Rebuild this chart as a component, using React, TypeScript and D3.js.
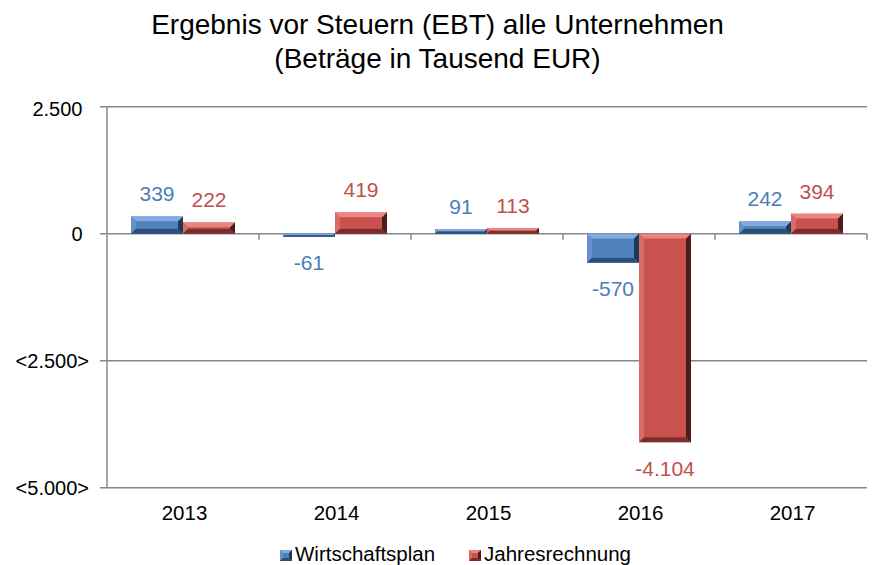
import React from "react";
import * as d3 from "d3";

const categories = ["2013", "2014", "2015", "2016", "2017"];
const wirtschaftsplan = [339, -61, 91, -570, 242];
const jahresrechnung = [222, 419, 113, -4104, 394];
const yTicks = [2500, 0, -2500, -5000];
const seriesNames = ["Wirtschaftsplan", "Jahresrechnung"];
const titleLines = ["Ergebnis vor Steuern (EBT) alle Unternehmen", "(Beträge in Tausend EUR)"];

const W = 873;
const H = 565;
const M = { left: 107, right: 6, top: 106.7, bottom: 77.3 };

const palettes = [
  { base: "#4F81BD", light: "#80AAE0", mid: "#6592CE", dark: "#2C4D75", darker: "#1F3856", text: "#4A7EBB" },
  { base: "#C9514E", light: "#E88683", mid: "#D86A67", dark: "#7A2E2C", darker: "#4E1C1B", text: "#C0504D" },
];

const grp = (n: number) => Math.abs(n).toString().replace(/\B(?=(\d{3})+(?!\d))/g, ".");
const fmt = (v: number) => (v < 0 ? "-" : "") + grp(v);
const fmtTick = (v: number) => (v < 0 ? "<" + grp(v) + ">" : grp(v));

function BevelBar({ x, y, w, h, p, bevel = 5 }: { x: number; y: number; w: number; h: number; p: any; bevel?: number }) {
  const b = Math.min(bevel, h / 2, w / 2);
  const x0 = x, x1 = x + w, y0 = y, y1 = y + h;
  const ix0 = x0 + b, ix1 = x1 - b, iy0 = y0 + b, iy1 = y1 - b;
  const pts = (a: number[][]) => a.map((q) => q.join(",")).join(" ");
  return (
    <g>
      <rect x={x0} y={y0} width={w} height={h} fill={p.base} />
      <polygon points={pts([[x0, y0], [x1, y0], [ix1, iy0], [ix0, iy0]])} fill={p.light} />
      <polygon points={pts([[x0, y0], [ix0, iy0], [ix0, iy1], [x0, y1]])} fill={p.mid} />
      <polygon points={pts([[x1, y0], [x1, y1], [ix1, iy1], [ix1, iy0]])} fill={p.darker} />
      <polygon points={pts([[x0, y1], [ix0, iy1], [ix1, iy1], [x1, y1]])} fill={p.dark} />
      <rect x={ix0} y={iy0} width={Math.max(0, ix1 - ix0)} height={Math.max(0, iy1 - iy0)} fill={p.base} />
    </g>
  );
}

export default function App() {
  const x = d3.scaleBand().domain(categories).range([M.left, W - M.right]).paddingInner(0).paddingOuter(0);
  const y = d3.scaleLinear().domain([-5000, 2500]).range([H - M.bottom, M.top]);
  const bw = x.bandwidth() * 0.342;
  const font = "'Liberation Sans', Arial, sans-serif";
  const series = [wirtschaftsplan, jahresrechnung];
  const y0 = y(0);

  return (
    <svg width={W} height={H} style={{ position: "absolute", left: 0, top: 0 }} fontFamily={font}>
      <rect width={W} height={H} fill="#fff" />
      {titleLines.map((t, i) => (
        <text key={i} x={437.5} y={34 + i * 34} textAnchor="middle" fontSize={28} fill="#000">{t}</text>
      ))}

      {yTicks.map((t) => (
        <g key={t}>
          <line x1={M.left - 7} x2={W - M.right} y1={y(t)} y2={y(t)} stroke="#888" strokeWidth={1.5} />
          <text x={t < 0 ? 89 : 82.5} y={y(t) + (t === 2500 ? 2 : 0)} dy="0.35em" textAnchor="end" fontSize={20} fill="#000">{fmtTick(t)}</text>
        </g>
      ))}
      <line x1={M.left} x2={M.left} y1={y(2500)} y2={y(-5000)} stroke="#888" strokeWidth={1.5} />
      {categories.slice(1).map((c) => (
        <line key={c} x1={x(c)!} x2={x(c)!} y1={y0} y2={y0 + 6} stroke="#888" strokeWidth={1.5} />
      ))}
      <line x1={W - M.right} x2={W - M.right} y1={y0} y2={y0 + 6} stroke="#888" strokeWidth={1.5} />

      {categories.map((c, i) => {
        const cx = x(c)! + x.bandwidth() / 2;
        return series.map((s, si) => {
          const v = s[i];
          const bx = si === 0 ? cx - bw : cx;
          const top = Math.min(y(v), y0);
          const h = Math.abs(y(v) - y0);
          const p = palettes[si];
          const ly = v >= 0 ? y(v) - 22.5 : y(v) + 26;
          return (
            <g key={c + si}>
              <BevelBar x={bx} y={top} w={bw} h={h} p={p} />
              <text x={bx + bw / 2} y={ly} textAnchor="middle" dy="0.35em" fontSize={21} fill={p.text}>{fmt(v)}</text>
            </g>
          );
        });
      })}

      {categories.map((c) => (
        <text key={c} x={x(c)! + x.bandwidth() / 2 + 1.5} y={513} textAnchor="middle" dy="0.35em" fontSize={20.5} fill="#000">{c}</text>
      ))}

      {seriesNames.map((n, i) => {
        const lx = i === 0 ? 280 : 469;
        const p = palettes[i];
        return (
          <g key={n}>
            <BevelBar x={lx} y={550} w={12} h={11} p={p} bevel={3} />
            <text x={lx + 15} y={553.5} dy="0.35em" fontSize={20.5} fill="#000">{n}</text>
          </g>
        );
      })}
    </svg>
  );
}
